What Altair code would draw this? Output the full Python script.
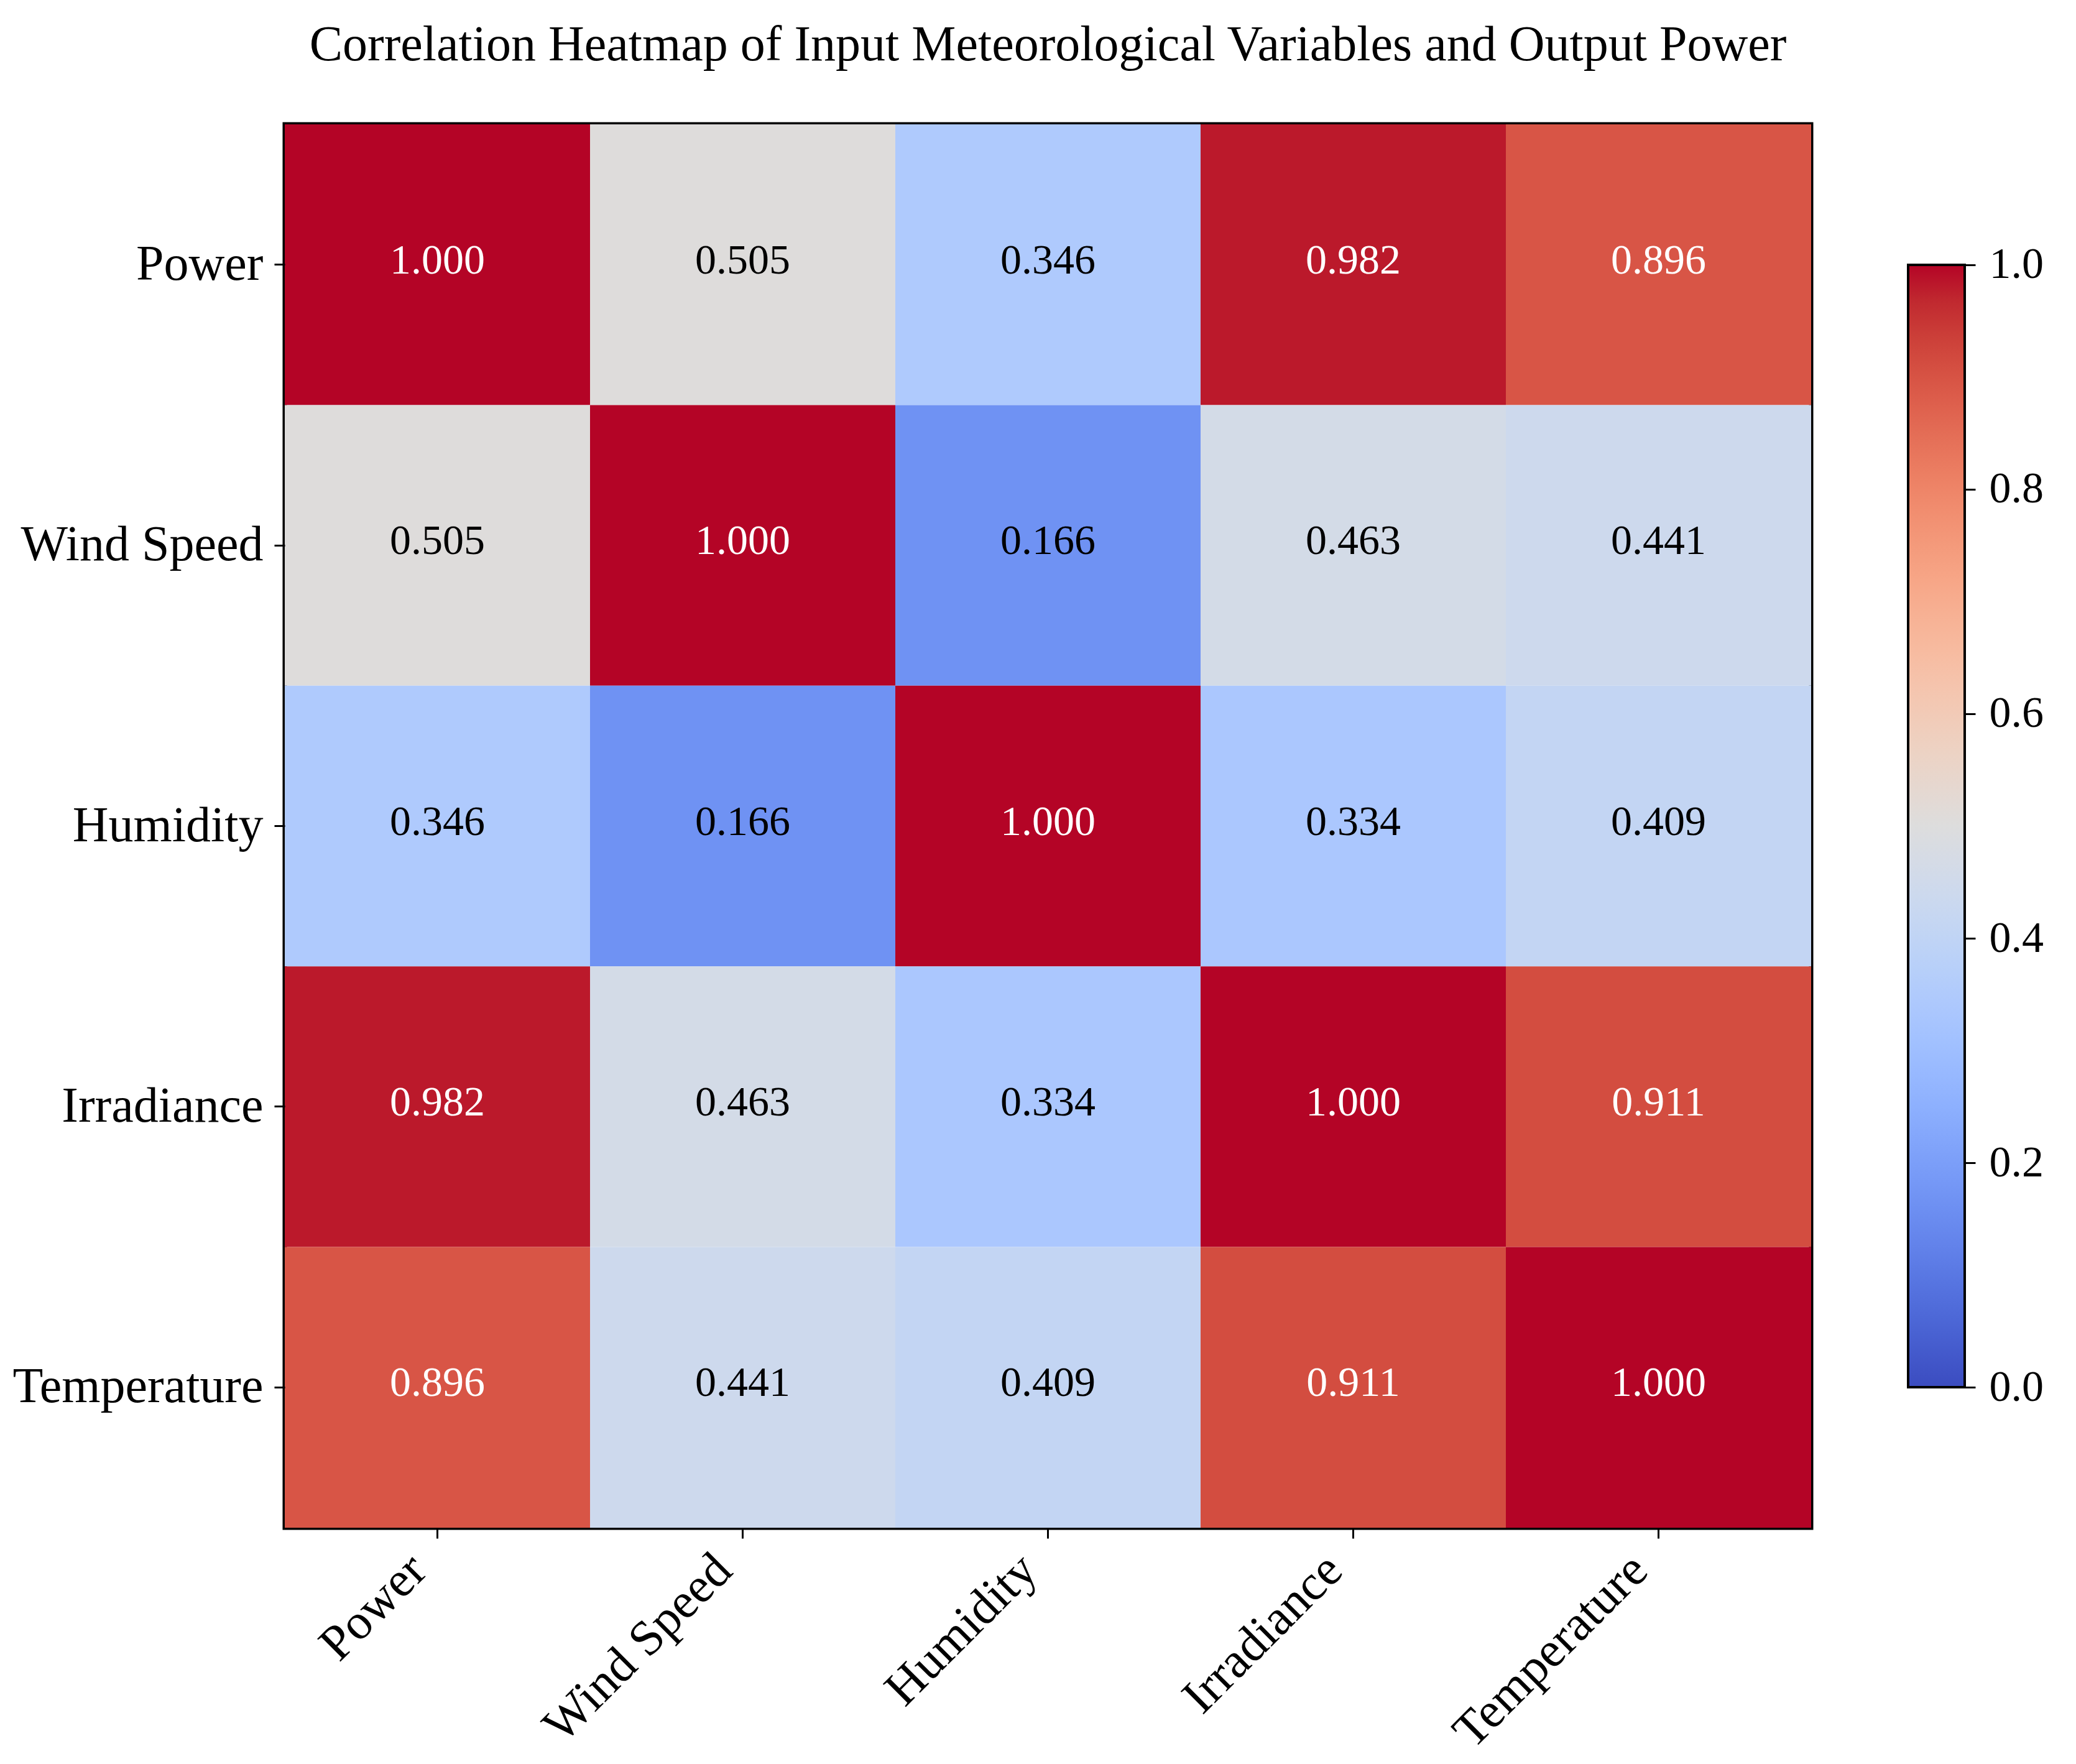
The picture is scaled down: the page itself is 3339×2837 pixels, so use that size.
import altair as alt
import pandas as pd

# ---------------- data ----------------
variables = ["Power", "Wind Speed", "Humidity", "Irradiance", "Temperature"]
corr = [
    [1.000, 0.505, 0.346, 0.982, 0.896],
    [0.505, 1.000, 0.166, 0.463, 0.441],
    [0.346, 0.166, 1.000, 0.334, 0.409],
    [0.982, 0.463, 0.334, 1.000, 0.911],
    [0.896, 0.441, 0.409, 0.911, 1.000],
]
colorbar_ticks = [0.0, 0.2, 0.4, 0.6, 0.8, 1.0]

# coolwarm colormap stops (Moreland diverging map)
cmap_stops = [i / 32 for i in range(33)]
cmap_colors = [
    "#3b4cc0", "#445acc", "#4d68d7", "#5775e1", "#6282ea", "#6c8ef1", "#779af7", "#82a5fb",
    "#8db0fe", "#98b9ff", "#a3c2ff", "#aec9fd", "#b8d0f9", "#c2d5f4", "#ccd9ee", "#d5dbe6",
    "#dddddd", "#e5d8d1", "#ecd3c5", "#f1ccb9", "#f5c4ad", "#f7bba0", "#f7b194", "#f7a687",
    "#f49a7b", "#f18d6f", "#ec7f63", "#e57058", "#de604d", "#d55042", "#cb3e38", "#c0282f",
    "#b40426",
]

title_text = "Correlation Heatmap of Input Meteorological Variables and Output Power"
FONT = "Liberation Serif"

rows = []
for i, rname in enumerate(variables):
    for j, cname in enumerate(variables):
        rows.append({"row": rname, "col": cname, "value": corr[i][j]})
df = pd.DataFrame(rows)
df["label"] = df["value"].map(lambda v: f"{v:.3f}")

color_scale = alt.Scale(domain=cmap_stops, range=cmap_colors, interpolate="rgb")

x_enc = alt.X(
    "col:N",
    sort=variables,
    scale=alt.Scale(paddingInner=0, paddingOuter=0),
    axis=alt.Axis(
        title=None, domain=False, grid=False,
        tickSize=17, tickWidth=3, tickColor="black",
        labelFont=FONT, labelFontSize=80, labelColor="black",
        labelAngle=315, labelAlign="right", labelBaseline="top",
        labelPadding=11, labelOffset=-58, labelOverlap=False, labelFlush=False,
        labelBound=False, labelLimit=2000,
    ),
)
y_enc = alt.Y(
    "row:N",
    sort=variables,
    scale=alt.Scale(paddingInner=0, paddingOuter=0),
    axis=alt.Axis(
        title=None, domain=False, grid=False,
        tickSize=17, tickWidth=3, tickColor="black",
        labelFont=FONT, labelFontSize=80, labelColor="black",
        labelPadding=18, labelOverlap=False, labelBaseline="middle",
        labelLimit=2000,
    ),
)

base = alt.Chart(df).encode(x=x_enc, y=y_enc)
rects = base.mark_rect().encode(
    color=alt.Color("value:Q", scale=color_scale, legend=None)
)
texts = base.mark_text(font=FONT, fontSize=68, baseline="middle", align="center", dy=-6).encode(
    text="label:N",
    color=alt.condition("datum.value > 0.7", alt.value("white"), alt.value("black")),
)

heat = alt.layer(rects, texts).properties(
    width=2455,
    height=2257,
    title=alt.TitleParams(
        text=title_text, font=FONT, fontSize=80, fontWeight="normal",
        color="black", anchor="middle", frame="group", offset=86,
    ),
    view=alt.ViewBackground(stroke="black", strokeWidth=7),
)

# ---------------- colorbar ----------------
cb_df = pd.DataFrame({"lo": [0.0], "hi": [1.0]})
grad = alt.LinearGradient(
    gradient="linear",
    stops=[alt.GradientStop(offset=s, color=c) for s, c in zip(cmap_stops, cmap_colors)],
    x1=0, y1=1, x2=0, y2=0,
)
cbar = alt.Chart(cb_df).mark_rect(color=grad, stroke="black", strokeWidth=4).encode(
    x=alt.value(0),
    x2=alt.value(91),
    y=alt.Y(
        "lo:Q",
        scale=alt.Scale(domain=[-0.1252, 1.1252], nice=False, zero=False),
        axis=alt.Axis(
            orient="right", values=colorbar_ticks, format=".1f",
            domain=False, grid=False, title=None,
            tickSize=17, tickWidth=3, tickColor="black",
            labelFont=FONT, labelFontSize=70, labelColor="black",
            labelPadding=22, labelBaseline="middle", labelFlush=False,
        ),
    ),
    y2="hi:Q",
).properties(width=91, height=2257, view=alt.ViewBackground(strokeWidth=0))

chart = alt.hconcat(heat, cbar, spacing=150).properties(
    padding={"left": 8, "top": 21, "right": 0, "bottom": 0},
    background="white",
)

chart.save("out.html", embed_options={"renderer": "svg", "actions": False})
